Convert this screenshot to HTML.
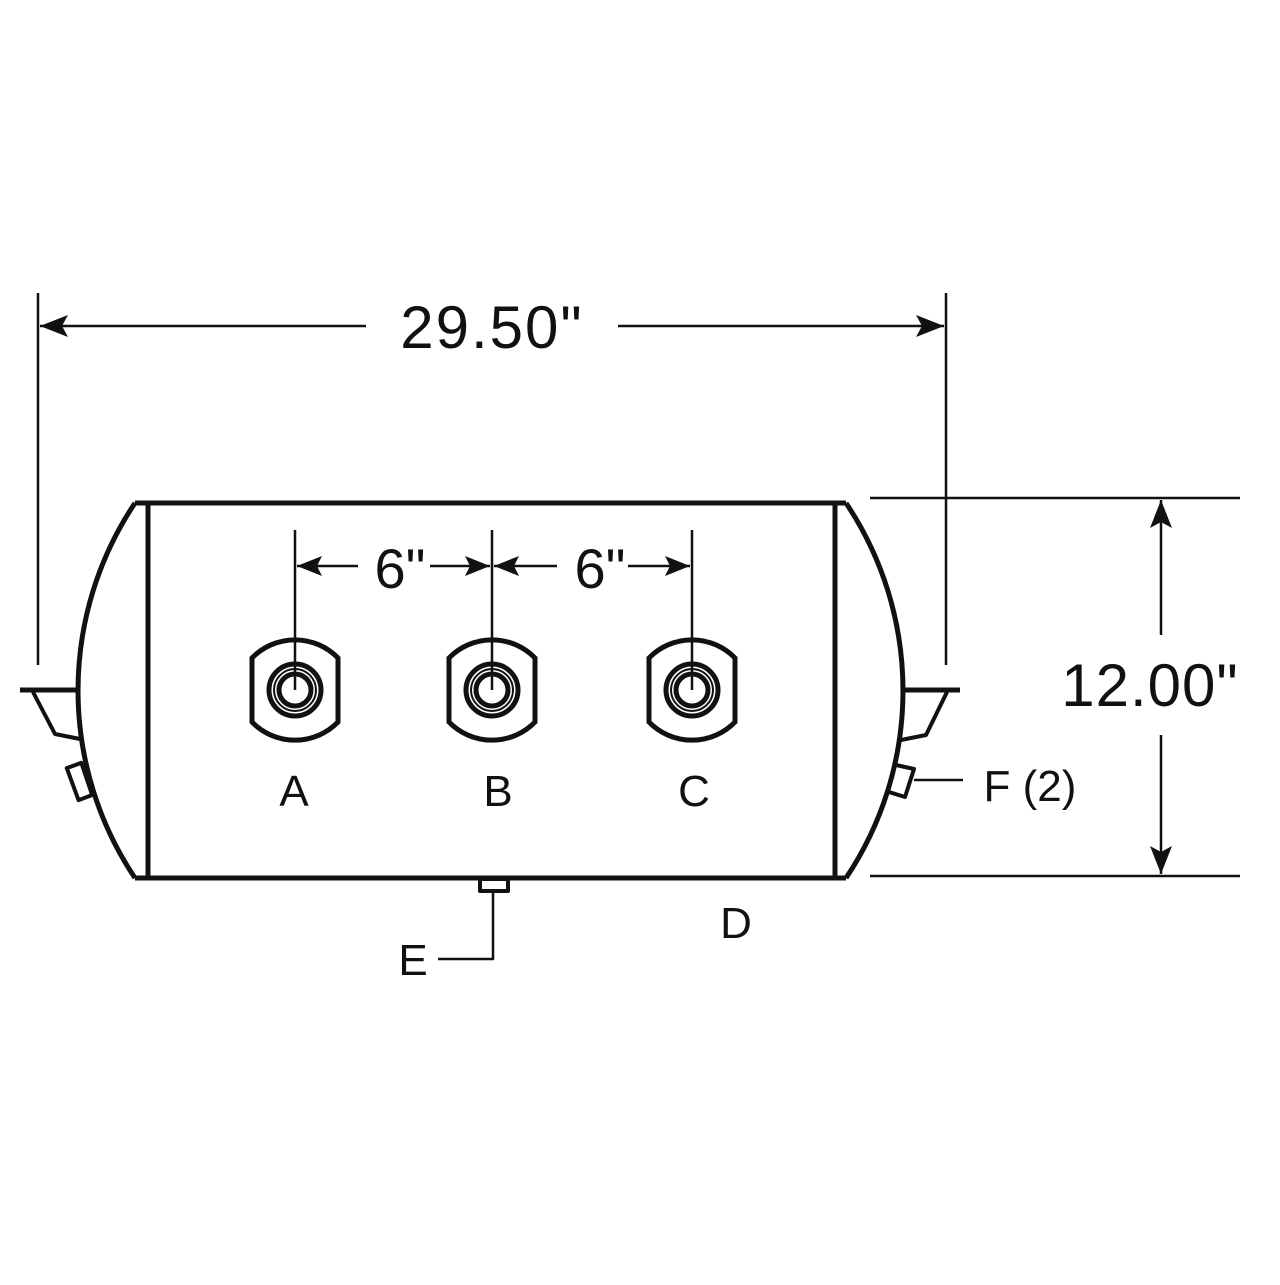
<!DOCTYPE html>
<html><head><style>html,body{margin:0;padding:0;background:#fff}</style></head>
<body>
<svg width="1280" height="1280" viewBox="0 0 1280 1280" xmlns="http://www.w3.org/2000/svg">
<defs>
<g id="fit">
 <path d="M-43 -32 A60 60 0 0 1 43 -32 L43 32 A60 60 0 0 1 -43 32 Z" fill="none" stroke="#111" stroke-width="5" stroke-linejoin="miter"/>
 <circle r="26" fill="none" stroke="#111" stroke-width="5"/>
 <circle r="21" fill="none" stroke="#111" stroke-width="2"/>
 <circle r="16" fill="none" stroke="#111" stroke-width="5"/>
</g>
</defs>
<g fill="none" stroke="#111" stroke-linejoin="round">
 <line x1="135" y1="503" x2="846" y2="503" stroke-width="5"/>
 <line x1="135" y1="878" x2="846" y2="878" stroke-width="5"/>
 <line x1="148" y1="505" x2="148" y2="876" stroke-width="5"/>
 <line x1="835" y1="505" x2="835" y2="876" stroke-width="5"/>
 <path d="M135 503 A337 337 0 0 0 135 878" stroke-width="5"/>
 <path d="M846 503 A337 337 0 0 1 846 878" stroke-width="5"/>
 <path d="M20 690 H78" stroke-width="5"/>
 <path d="M33 692 L55 734 L80 739" stroke-width="4"/>
 <path d="M68 767 L83 763 L91 796 L77 800 Z" stroke-width="4" transform="rotate(-5 80 782)"/>
 <path d="M904 690 H960" stroke-width="5"/>
 <path d="M947 692 L926 735 L901 740" stroke-width="4"/>
 <path d="M896 765 L914 769 L905 797 L889 792" stroke-width="4"/>
 <line x1="914" y1="780" x2="963" y2="780" stroke-width="2.5"/>
 <rect x="480" y="879" width="28" height="12" stroke-width="4"/>
 <path d="M493 891 V959 H438" stroke-width="2.5"/>
 <line x1="38" y1="293" x2="38" y2="665" stroke-width="2.5"/>
 <line x1="946" y1="293" x2="946" y2="665" stroke-width="2.5"/>
 <line x1="40" y1="326" x2="366" y2="326" stroke-width="2.5"/>
 <line x1="618" y1="326" x2="944" y2="326" stroke-width="2.5"/>
 <line x1="870" y1="498" x2="1240" y2="498" stroke-width="2.5"/>
 <line x1="870" y1="876" x2="1240" y2="876" stroke-width="2.5"/>
 <line x1="1161" y1="500" x2="1161" y2="635" stroke-width="2.5"/>
 <line x1="1161" y1="735" x2="1161" y2="874" stroke-width="2.5"/>
 <line x1="295" y1="530" x2="295" y2="690" stroke-width="2.5"/>
 <line x1="492" y1="530" x2="492" y2="690" stroke-width="2.5"/>
 <line x1="692" y1="530" x2="692" y2="690" stroke-width="2.5"/>
 <line x1="297" y1="566" x2="358" y2="566" stroke-width="2.5"/>
 <line x1="430" y1="566" x2="490" y2="566" stroke-width="2.5"/>
 <line x1="494" y1="566" x2="557" y2="566" stroke-width="2.5"/>
 <line x1="628" y1="566" x2="690" y2="566" stroke-width="2.5"/>
</g>
<g fill="#111">
 <path d="M40 326 L68 315 L62 326 L68 337 Z"/>
 <path d="M944 326 L916 315 L922 326 L916 337 Z"/>
 <path d="M1161 500 L1150 528 L1161 522 L1172 528 Z"/>
 <path d="M1161 874 L1150 846 L1161 852 L1172 846 Z"/>
 <path d="M297 566 L322 556 L317 566 L322 576 Z"/>
 <path d="M490 566 L465 556 L470 566 L465 576 Z"/>
 <path d="M494 566 L519 556 L514 566 L519 576 Z"/>
 <path d="M690 566 L665 556 L670 566 L665 576 Z"/>
</g>
<use href="#fit" x="295" y="690"/>
<use href="#fit" x="492" y="690"/>
<use href="#fit" x="692" y="690"/>
<g font-family="'Liberation Sans', 'DejaVu Sans', sans-serif" fill="#111" text-anchor="middle">
 <text x="492" y="348" font-size="60" letter-spacing="2">29.50"</text>
 <text x="1150" y="706" font-size="60" letter-spacing="1">12.00"</text>
 <text x="400" y="588" font-size="56">6"</text>
 <text x="600" y="588" font-size="56">6"</text>
 <text x="294" y="806" font-size="44">A</text>
 <text x="498" y="806" font-size="44">B</text>
 <text x="694" y="806" font-size="44">C</text>
 <text x="736" y="938" font-size="44">D</text>
 <text x="413" y="975" font-size="44">E</text>
 <text x="1030" y="801" font-size="44">F (2)</text>
</g>
</svg>
</body></html>
